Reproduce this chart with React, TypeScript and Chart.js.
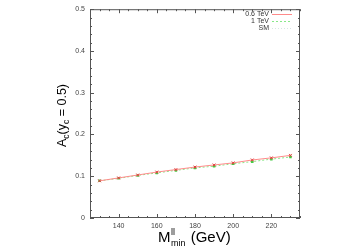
import React, { useEffect, useRef } from "react";
import { Chart, registerables } from "chart.js";

Chart.register(...registerables);

const massCuts = [130, 140, 150, 160, 170, 180, 190, 200, 210, 220, 230];
const ac06TeV = [0.089, 0.096, 0.103, 0.110, 0.116, 0.122, 0.127, 0.132, 0.139, 0.144, 0.150];
const ac1TeV = [0.089, 0.095, 0.102, 0.108, 0.114, 0.120, 0.124, 0.130, 0.135, 0.141, 0.146];
const acSM: (number | null)[] = [null, null, null, null, null, null, null, null, null, null, null];
const seriesLabels = ["0.6 TeV", "1 TeV", "SM"];
const xTickLabels = [140, 160, 180, 200, 220];
const yTickLabels = [0, 0.1, 0.2, 0.3, 0.4, 0.5];

const FONT = "'Liberation Sans', Arial, sans-serif";

const decorPlugin = {
  id: "decor",
  afterDraw(chart: any) {
    const ctx = chart.ctx as CanvasRenderingContext2D;
    const { left, right, top, bottom } = chart.chartArea;
    const xs = chart.scales.x;
    const ys = chart.scales.y;
    ctx.save();
    // frame
    ctx.strokeStyle = "#555";
    ctx.lineWidth = 1;
    ctx.strokeRect(left + 0.5, top + 0.5, right - left - 1, bottom - top - 1);
    // x ticks (major 20, minor 5)
    for (let v = 125; v <= 235; v += 5) {
      const px = Math.round(xs.getPixelForValue(v)) + 0.5;
      const len = v % 20 === 0 ? 4 : 2;
      ctx.beginPath();
      ctx.moveTo(px, bottom);
      ctx.lineTo(px, bottom - len);
      ctx.moveTo(px, top);
      ctx.lineTo(px, top + len);
      ctx.stroke();
    }
    for (let i = 0; i <= 25; i++) {
      const v = i * 0.02;
      const py = Math.round(ys.getPixelForValue(v)) + 0.5;
      const len = i % 5 === 0 ? 4 : 2;
      ctx.beginPath();
      ctx.moveTo(left, py);
      ctx.lineTo(left + len, py);
      ctx.moveTo(right, py);
      ctx.lineTo(right - len, py);
      ctx.stroke();
    }
    // legend
    ctx.font = `7px ${FONT}`;
    ctx.textAlign = "right";
    ctx.textBaseline = "middle";
    chart.data.datasets.forEach((ds: any, i: number) => {
      const y = 14 + i * 7;
      ctx.fillStyle = "#333";
      ctx.fillText(ds.label, 269, y);
      ctx.strokeStyle = ds.borderColor;
      ctx.lineWidth = 1;
      ctx.setLineDash(ds.borderDash || []);
      ctx.beginPath();
      ctx.moveTo(272, y + 0.5);
      ctx.lineTo(292, y + 0.5);
      ctx.stroke();
      ctx.setLineDash([]);
    });
    // x title
    ctx.fillStyle = "#000";
    ctx.textAlign = "left";
    ctx.textBaseline = "alphabetic";
    let x = 158;
    const base = 242;
    ctx.font = `15px ${FONT}`;
    ctx.fillText("M", x, base);
    x += ctx.measureText("M").width + 0.5;
    ctx.font = `9px ${FONT}`;
    ctx.fillText("ll", x, base - 7);
    ctx.fillText("min", x, base + 4);
    x += ctx.measureText("min").width + 1;
    ctx.font = `15px ${FONT}`;
    ctx.fillText(" (GeV)", x, base);
    // y title rotated
    ctx.save();
    ctx.translate(66, 147);
    ctx.rotate(-Math.PI / 2);
    let t = 0;
    ctx.font = `12.5px ${FONT}`;
    ctx.fillText("A", t, 0);
    t += ctx.measureText("A").width;
    ctx.font = `8.5px ${FONT}`;
    ctx.fillText("c", t, 3);
    t += ctx.measureText("c").width;
    ctx.font = `12.5px ${FONT}`;
    ctx.fillText("(y", t, 0);
    t += ctx.measureText("(y").width;
    ctx.font = `8.5px ${FONT}`;
    ctx.fillText("c", t, 3);
    t += ctx.measureText("c").width;
    ctx.font = `12.5px ${FONT}`;
    ctx.fillText(" = 0.5)", t, 0);
    ctx.restore();
    ctx.restore();
  },
};

export default function App() {
  const ref = useRef<HTMLCanvasElement | null>(null);
  useEffect(() => {
    if (!ref.current) return;
    const chart = new Chart(ref.current, {
      type: "line",
      data: {
        datasets: [
          {
            label: seriesLabels[0],
            data: massCuts.map((m, i) => ({ x: m, y: ac06TeV[i] })),
            borderColor: "#ff8a8a",
            backgroundColor: "#e04040",
            borderWidth: 1,
            pointStyle: "crossRot",
            pointRadius: 2,
            pointBorderColor: "#e04040",
            pointBorderWidth: 1,
          },
          {
            label: seriesLabels[1],
            data: massCuts.map((m, i) => ({ x: m, y: ac1TeV[i] })),
            borderColor: "#88e888",
            backgroundColor: "#44cc44",
            borderWidth: 1,
            borderDash: [2, 2],
            pointStyle: "rect",
            pointRadius: 1.8,
            pointBorderColor: "#44cc44",
            pointBorderWidth: 0,
          },
          {
            label: seriesLabels[2],
            data: massCuts.map((m, i) => ({ x: m, y: acSM[i] })),
            borderColor: "#d8e4e4",
            backgroundColor: "#d8e4e4",
            borderWidth: 1,
            borderDash: [1, 2],
            pointRadius: 0,
          },
        ],
      },
      options: {
        animation: false,
        responsive: false,
        maintainAspectRatio: false,
        layout: { padding: { left: 0, top: 9, right: 54, bottom: 0 } },
        plugins: { legend: { display: false }, tooltip: { enabled: false } },
        scales: {
          x: {
            type: "linear",
            min: 125,
            max: 235,
            afterFit: (s: any) => { s.height = 30; },
            afterBuildTicks: (s: any) => { s.ticks = xTickLabels.map((v) => ({ value: v })); },
            grid: { display: false, drawTicks: false },
            border: { display: false },
            ticks: { font: { family: FONT, size: 7 }, color: "#444", padding: 4, maxRotation: 0 },
          },
          y: {
            type: "linear",
            min: 0,
            max: 0.5,
            afterFit: (s: any) => { s.width = 90; },
            afterBuildTicks: (s: any) => { s.ticks = yTickLabels.map((v) => ({ value: v })); },
            grid: { display: false, drawTicks: false },
            border: { display: false },
            ticks: { font: { family: FONT, size: 7 }, color: "#444", padding: 5, callback: (v: any) => String(v) },
          },
        },
      },
      plugins: [decorPlugin],
    });
    return () => chart.destroy();
  }, []);
  return (
    <div style={{ position: "absolute", left: 0, top: 0, width: 354, height: 248, background: "#fff" }}>
      <canvas ref={ref} width={354} height={248} style={{ width: 354, height: 248 }} />
    </div>
  );
}
